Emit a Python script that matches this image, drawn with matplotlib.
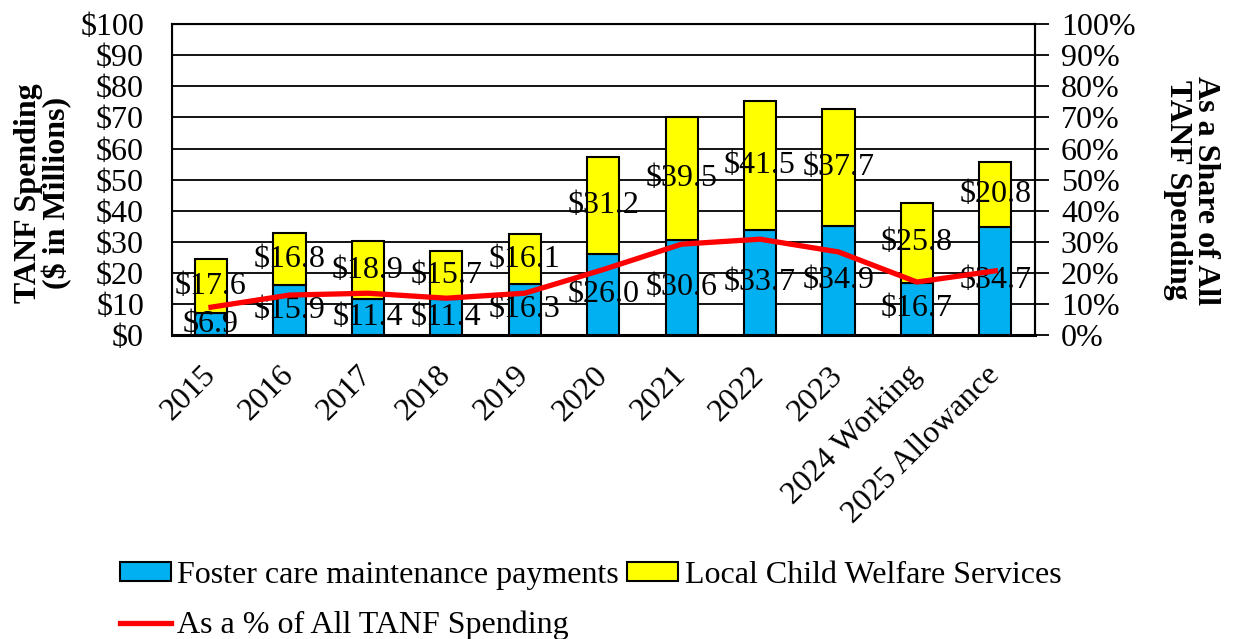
import matplotlib
matplotlib.use("Agg")
import matplotlib.pyplot as plt
import numpy as np
from matplotlib.patches import Patch
from matplotlib.lines import Line2D

plt.rcParams['font.family'] = ['Liberation Serif', 'DejaVu Serif']

# data ($ in millions)
years = ["2015", "2016", "2017", "2018", "2019", "2020", "2021", "2022",
         "2023", "2024 Working", "2025 Allowance"]
foster_care = [6.9, 15.9, 11.4, 11.4, 16.3, 26.0, 30.6, 33.7, 34.9, 16.7, 34.7]
local_cws = [17.6, 16.8, 18.9, 15.7, 16.1, 31.2, 39.5, 41.5, 37.7, 25.8, 20.8]
share_pct = [8.9, 12.8, 13.4, 11.8, 13.4, 21.0, 29.2, 30.8, 26.7, 17.0, 20.6]

blue = "#00B0F0"
yellow = "#FFFF00"
red = "#FF0000"
fs = 23

fig = plt.figure(figsize=(12.36, 6.39), dpi=100)
ax = fig.add_axes([0.139, 0.476, 0.698, 0.486])
x = np.arange(len(years))
w = 0.41

ax.bar(x, foster_care, w, color=blue, edgecolor="black", linewidth=1.5, zorder=3)
ax.bar(x, local_cws, w, bottom=foster_care, color=yellow, edgecolor="black",
       linewidth=1.5, zorder=3)

# data labels, centred in each segment
for i in range(len(years)):
    ax.text(x[i], foster_care[i] / 2, "$%.1f" % foster_care[i], ha="center",
            va="center", fontsize=fs, zorder=5)
    ax.text(x[i], foster_care[i] + local_cws[i] / 2, "$%.1f" % local_cws[i],
            ha="center", va="center", fontsize=fs, zorder=5)

ax.set_xlim(-0.5, len(years) - 0.5)
ax.set_ylim(0, 100)
ax.set_yticks(range(0, 101, 10))
ax.set_yticklabels(["$%d" % v for v in range(0, 101, 10)], fontsize=fs)
ax.tick_params(axis="y", length=0, pad=20)
ax.yaxis.grid(True, color="black", linewidth=1.3, zorder=0)
ax.set_axisbelow(True)
ax.set_xticks(x)
ax.set_xticklabels(years, fontsize=fs, rotation=45, ha="right", va="center",
                   rotation_mode="anchor")
ax.tick_params(axis="x", length=0, pad=26)
for s in ax.spines.values():
    s.set_color("black")
    s.set_linewidth(1.5)
ax.spines["bottom"].set_linewidth(2.2)

# secondary axis: share of all TANF spending
ax2 = ax.twinx()
ax2.plot(x, share_pct, color=red, linewidth=3.8, zorder=4)
ax2.set_ylim(0, 100)
ax2.set_yticks(range(0, 101, 10))
ax2.set_yticklabels(["%d%%" % v for v in range(0, 101, 10)], fontsize=fs)
ax2.tick_params(axis="y", length=10, width=1.3, direction="out", pad=9)
ax2.spines["right"].set_linewidth(1.5)

fig.text(0.035, 1 - 193 / 639, "TANF Spending\n($ in Millions)", rotation=90,
         ha="center", va="center", fontsize=fs, fontweight="bold",
         linespacing=0.95)
fig.text(0.964, 1 - 190 / 639, "As a Share of All\nTANF Spending", rotation=270,
         ha="center", va="center", fontsize=fs, fontweight="bold",
         linespacing=0.95)

handles = [Patch(facecolor=blue, edgecolor="black", linewidth=1.5),
           Line2D([], [], color=red, linewidth=3.8),
           Patch(facecolor=yellow, edgecolor="black", linewidth=1.5)]
labels = ["Foster care maintenance payments", "As a % of All TANF Spending",
          "Local Child Welfare Services"]
fig.legend(handles, labels, loc="upper left", bbox_to_anchor=(0.097, 0.122),
           ncol=2, frameon=False, fontsize=fs, handlelength=1.6,
           handleheight=0.55, handletextpad=0.2, columnspacing=0.25,
           labelspacing=0.65, borderpad=0, borderaxespad=0)

fig.savefig("out.png", dpi=100)
